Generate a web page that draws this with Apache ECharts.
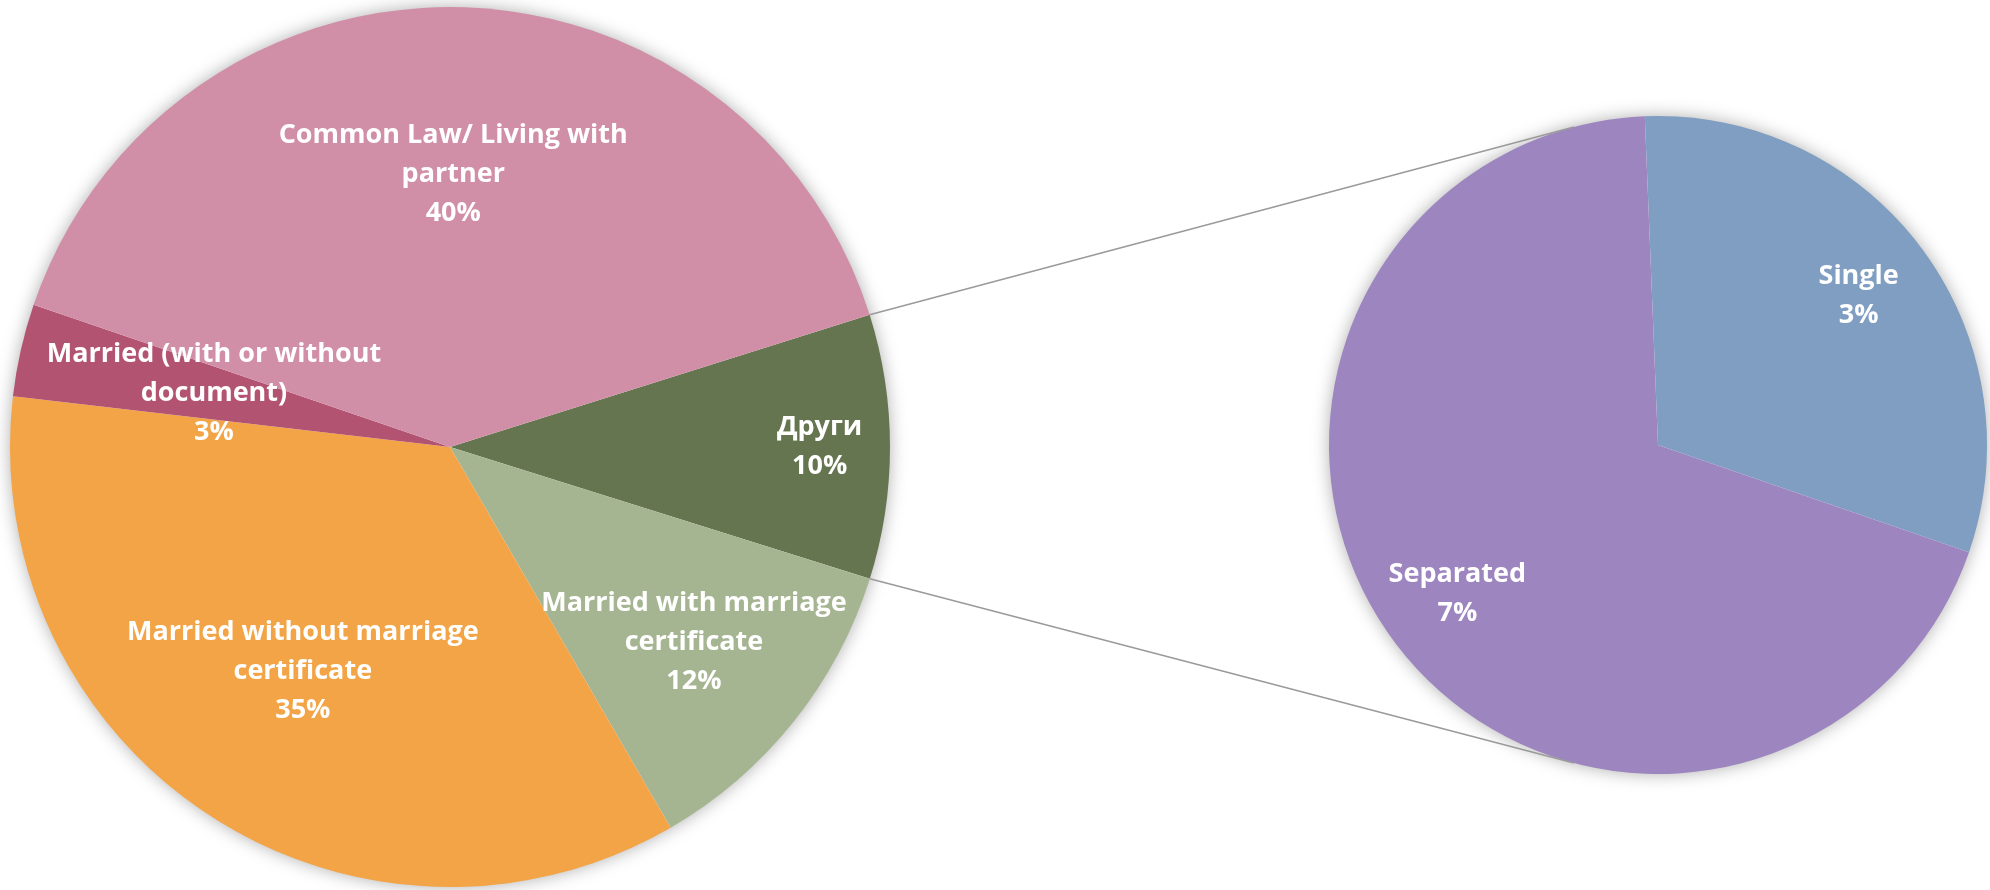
<!DOCTYPE html>
<html>
<head>
<meta charset="utf-8">
<style>
  html, body { margin: 0; padding: 0; background: #fff; }
  #chart { width: 1990px; height: 890px; }
</style>
<script src="https://cdn.jsdelivr.net/npm/echarts@6/dist/echarts.min.js"></script>
</head>
<body>
<div id="chart"></div>
<script>
// main pie, clockwise starting from the "other" slice
var mainNames = ['Други', 'Married with marriage certificate', 'Married without marriage certificate',
                 'Married (with or without document)', 'Common Law/ Living with partner'];
var mainLabels = ['Други', 'Married with marriage\ncertificate', 'Married without marriage\ncertificate',
                  'Married (with or without\ndocument)', 'Common Law/ Living with\npartner'];
var mainValues = [9.7, 11.8, 35.2, 3.4, 39.9];

// second pie = breakdown of "Други"
var subNames = ['Single', 'Separated'];
var subValues = [3.0, 6.7];

var mainColors = ['#657550', '#A6B591', '#F2A446', '#B35372', '#D08FA6'];
var subColors = ['#7F9EC2', '#9D85C0'];

// geometry (px)
var C1 = [450, 447], R1 = 440;
var C2 = [1658, 445], R2 = 329;
var mainStart = 17.5, subStart = 92.3;
var mainLabelR = [0.84, 0.71, 0.61, 0.55, 0.62];
var subLabelR = [0.76, 0.76];

function midAngles(values, start) {
	var total = values.reduce(function(a, b){ return a + b; }, 0);
	var acc = start, res = [];
	values.forEach(function(v){
		var sweep = v / total * 360;
		res.push(acc - sweep / 2);
		acc -= sweep;
	});
	return res;
}
var mainMid = midAngles(mainValues, mainStart);
var subMid = midAngles(subValues, subStart);

function polar(c, r, deg) {
	var a = deg * Math.PI / 180;
	return [c[0] + r * Math.cos(a), c[1] - r * Math.sin(a)];
}

var labelStyle = {
	show: true,
	position: 'inside',
	color: '#fff',
	fontFamily: '"Open Sans", sans-serif',
	fontWeight: 'bold',
	fontSize: 27,
	lineHeight: 39,
	align: 'center'
};

var chart = echarts.init(document.getElementById('chart'));

// the "other" slice edges and where the connectors meet the second pie
var mainTotal = mainValues.reduce(function(a, b){ return a + b; }, 0);
var otherSweep = mainValues[0] / mainTotal * 360;
var p1 = polar(C1, R1, mainStart), p2 = polar(C1, R1, mainStart - otherSweep);
var q1 = polar(C2, R2, 104.8), q2 = polar(C2, R2, -104.8);

var option = {
	backgroundColor: '#fff',
	animation: false,
	graphic: [
		{ type: 'circle', shape: { cx: C1[0], cy: C1[1], r: R1 - 1 }, z: -1,
		  style: { fill: '#fff', shadowBlur: 18, shadowColor: 'rgba(0,0,0,0.35)' } },
		{ type: 'circle', shape: { cx: C2[0], cy: C2[1], r: R2 - 1 }, z: -1,
		  style: { fill: '#fff', shadowBlur: 18, shadowColor: 'rgba(0,0,0,0.35)' } },
		{ type: 'line', shape: { x1: p1[0], y1: p1[1], x2: q1[0], y2: q1[1] }, z: 10,
		  style: { stroke: '#9a9a9a', lineWidth: 1.5 } },
		{ type: 'line', shape: { x1: p2[0], y1: p2[1], x2: q2[0], y2: q2[1] }, z: 10,
		  style: { stroke: '#9a9a9a', lineWidth: 1.5 } }
	],
	series: [
		{
			type: 'pie',
			center: C1,
			radius: [0, R1],
			startAngle: mainStart,
			clockwise: true,
			silent: true,
			label: Object.assign({}, labelStyle, {
				formatter: function(p){ return mainLabels[p.dataIndex] + '\n' + Math.round(p.value) + '%'; }
			}),
			labelLine: { show: false },
			labelLayout: function(p){
				var pt = polar(C1, R1 * mainLabelR[p.dataIndex], mainMid[p.dataIndex]);
				return { x: pt[0], y: pt[1], align: 'center', verticalAlign: 'middle' };
			},
			data: mainNames.map(function(n, i){
				return { name: n, value: mainValues[i], itemStyle: { color: mainColors[i] } };
			})
		},
		{
			type: 'pie',
			center: C2,
			radius: [0, R2],
			startAngle: subStart,
			clockwise: true,
			silent: true,
			label: Object.assign({}, labelStyle, {
				formatter: function(p){ return p.name + '\n' + Math.round(p.value) + '%'; }
			}),
			labelLine: { show: false },
			labelLayout: function(p){
				var pt = polar(C2, R2 * subLabelR[p.dataIndex], subMid[p.dataIndex]);
				return { x: pt[0], y: pt[1], align: 'center', verticalAlign: 'middle' };
			},
			data: subNames.map(function(n, i){
				return { name: n, value: subValues[i], itemStyle: { color: subColors[i] } };
			})
		}
	]
};
chart.setOption(option);
</script>
</body>
</html>
